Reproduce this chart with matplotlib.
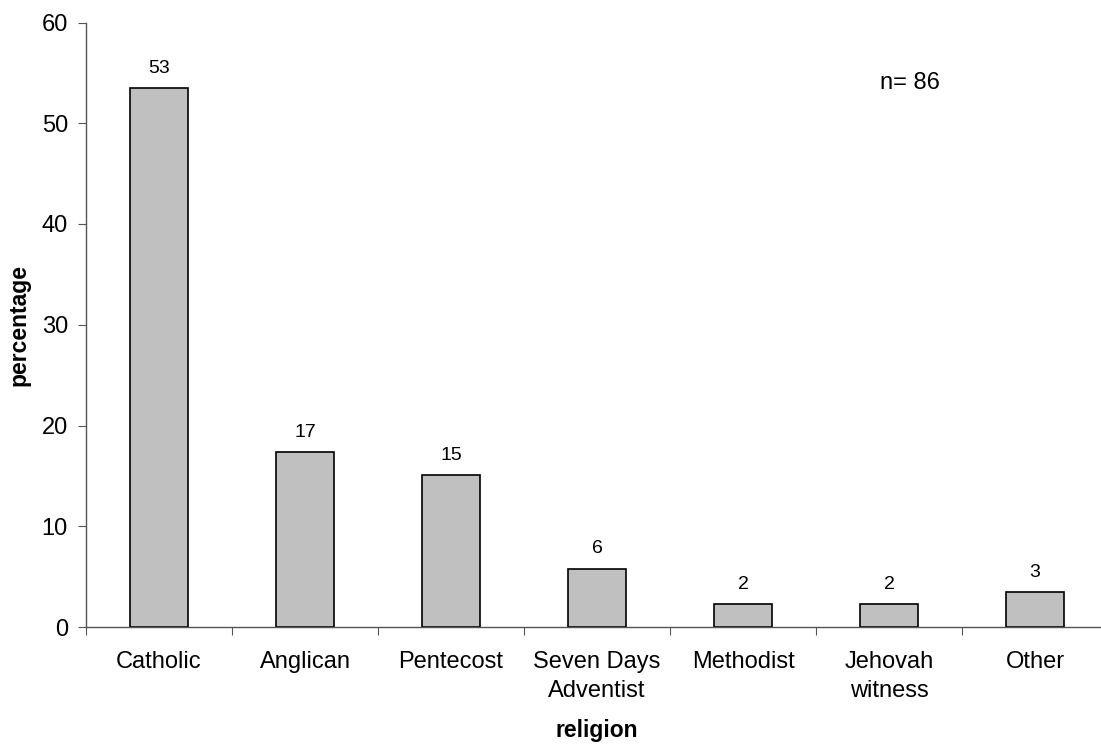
import numpy as np
import matplotlib.pyplot as plt

plt.rcParams['font.family'] = ['Liberation Sans', 'DejaVu Sans']

# data
religions = ['Catholic', 'Anglican', 'Pentecost', 'Seven Days\nAdventist',
             'Methodist', 'Jehovah\nwitness', 'Other']
percentages = [53.5, 17.4, 15.1, 5.8, 2.3, 2.3, 3.5]
bar_labels = ['53', '17', '15', '6', '2', '2', '3']
n_total = 86

fig = plt.figure(figsize=(11.01, 7.45), dpi=100)
ax = fig.add_axes([86 / 1101, 1 - 627 / 745, 1022 / 1101, (627 - 22.5) / 745])

x = np.arange(len(religions))
bars = ax.bar(x, percentages, width=0.4, color='#C0C0C0', edgecolor='black', linewidth=1.2)

for b, lab in zip(bars, bar_labels):
    ax.annotate(lab, (b.get_x() + b.get_width() / 2, b.get_height()),
                xytext=(0, 8), textcoords='offset points',
                ha='center', va='bottom', fontsize=14)

ax.set_xlim(-0.5, len(religions) - 0.5)
ax.set_ylim(0, 60)
ax.set_yticks(range(0, 61, 10))

# ticks at category boundaries, labels at centres
ax.set_xticks(np.arange(-0.5, len(religions), 1.0))
ax.set_xticklabels([])
ax.set_xticks(x, minor=True)
ax.set_xticklabels(religions, minor=True, fontsize=17, linespacing=1.45)
ax.tick_params(axis='x', which='major', direction='out', length=6, color='#555555')
ax.tick_params(axis='x', which='minor', length=0, pad=17)
ax.tick_params(axis='y', direction='out', length=6, color='#555555', labelsize=17, pad=7)

for s in ['top', 'right']:
    ax.spines[s].set_visible(False)
for s in ['left', 'bottom']:
    ax.spines[s].set_color('#555555')
    ax.spines[s].set_linewidth(1.0)

ax.set_xlabel('religion', fontsize=16.5, fontweight='bold', labelpad=12)
ax.set_ylabel('percentage', fontsize=16.5, fontweight='bold', labelpad=8)

ax.text(4.94, 54, 'n= %d' % n_total, fontsize=17, ha='left', va='center')

fig.savefig('out.png', dpi=100)
